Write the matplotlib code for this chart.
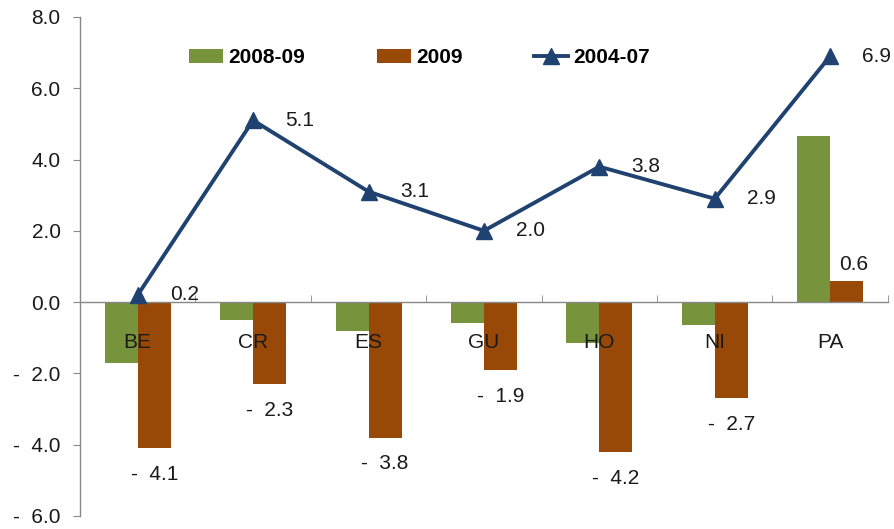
import numpy as np
import matplotlib
matplotlib.use('Agg')
import matplotlib.pyplot as plt
from matplotlib.ticker import FixedLocator, FuncFormatter


# data
countries = ['BE', 'CR', 'ES', 'GU', 'HO', 'NI', 'PA']
g_0809    = [-1.7, -0.5, -0.8, -0.6, -1.15, -0.65, 4.65]
g_2009    = [-4.1, -2.3, -3.8, -1.9, -4.2, -2.7, 0.6]
g_0407    = [0.2, 5.1, 3.1, 2.0, 3.8, 2.9, 6.9]

green = '#77933C'
brown = '#984807'
navy  = '#1F4270'
fs    = 15


def fmt(v):
  if v < 0:
    return '-  %.1f' % abs(v)
  return '%.1f' % v


plt.rcParams['font.family'] = ['Liberation Sans', 'DejaVu Sans']

fig = plt.figure(figsize=(8.95, 5.29), dpi=100)
ax  = fig.add_axes([0.0894, 0.0246, 0.9026, 0.9434])

x = np.arange(len(countries))
w = 0.286
b1 = ax.bar(x - w / 2, g_0809, w, color=green, zorder=2, label='2008-09')
b2 = ax.bar(x + w / 2, g_2009, w, color=brown, zorder=2, label='2009')
ln, = ax.plot(x, g_0407, color=navy, lw=2.8, marker='^', ms=12, zorder=5, label='2004-07')

# data labels
for xi, v in zip(x, g_0407):
  ax.annotate(fmt(v), (xi, v), xytext=(23, 0), textcoords='offset points',
              ha='left', va='center', fontsize=fs, color='#1a1a1a', zorder=6)
for xi, v in zip(x, g_2009):
  if v < 0:
    ax.annotate(fmt(v), (xi + w / 2, v), xytext=(0, -19), textcoords='offset points',
                ha='center', va='center', fontsize=fs, color='#1a1a1a')
  else:
    ax.annotate(fmt(v), (xi + w / 2, v), xytext=(5, 12), textcoords='offset points',
                ha='center', va='center', fontsize=fs, color='#1a1a1a')

# axes
ax.set_xlim(-0.5, len(countries) - 0.5)
ax.set_ylim(-6, 8)
ax.set_yticks(np.arange(-6, 9, 2))
ax.yaxis.set_major_formatter(FuncFormatter(lambda v, p: fmt(v)))
ax.tick_params(axis='y', labelsize=fs, length=5, color='#888888', pad=9, labelcolor='#1a1a1a')

ax.set_xticks(x)
ax.set_xticklabels(countries)
ax.tick_params(axis='x', which='major', length=0, pad=22, labelsize=fs, labelcolor='#1a1a1a')
ax.xaxis.set_minor_locator(FixedLocator(np.arange(0.5, len(countries), 1.0)))
ax.tick_params(axis='x', which='minor', direction='in', length=5, color='#888888')
ax.xaxis.set_zorder(4)

ax.spines['bottom'].set_position(('data', 0))
ax.spines['top'].set_visible(False)
ax.spines['right'].set_visible(False)
for s in ['left', 'bottom']:
  ax.spines[s].set_color('#888888')
  ax.spines[s].set_linewidth(1.0)
  ax.spines[s].set_zorder(4)

leg = ax.legend(handles=[b1, b2, ln], ncol=3, loc='center left', bbox_to_anchor=(0.135, 0.918),
                frameon=False, borderpad=0, borderaxespad=0, handlelength=1.63,
                handletextpad=0.25, columnspacing=3.45, prop={'weight': 'bold', 'size': fs})

fig.savefig('out.png', dpi=100)
